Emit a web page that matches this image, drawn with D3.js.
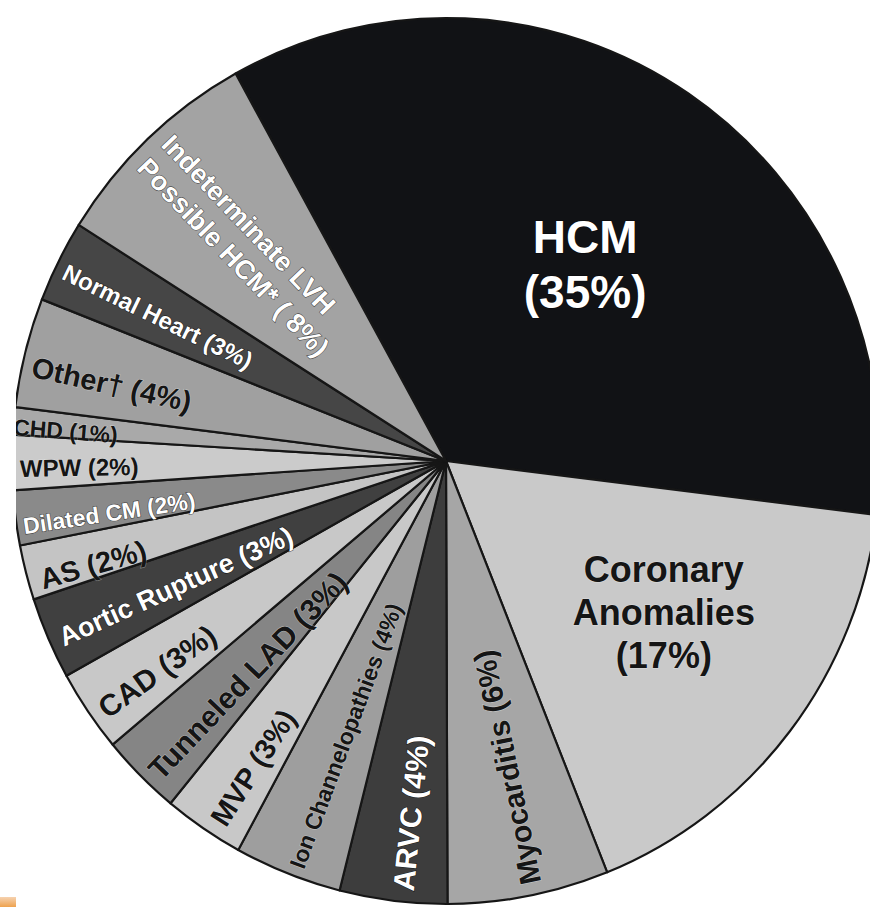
<!DOCTYPE html>
<html>
<head>
<meta charset="utf-8">
<script src="https://cdn.jsdelivr.net/npm/d3@7"></script>
<style>
  html, body { margin: 0; padding: 0; background: #ffffff; overflow: hidden; }
  svg { display: block; }
</style>
</head>
<body>
<svg id="chart" width="870" height="907"></svg>
<script>
// ---------------- data ----------------
const categories = ["HCM", "Coronary Anomalies", "Myocarditis", "ARVC", "Ion Channelopathies",
  "MVP", "Tunneled LAD", "CAD", "Aortic Rupture", "AS", "Dilated CM", "WPW", "CHD",
  "Other†", "Normal Heart", "Indeterminate LVH Possible HCM*"];
const values = [35, 17, 6, 4, 4, 3, 3, 3, 3, 2, 2, 2, 1, 4, 3, 8];
const labelLines = [
  ["HCM", "(35%)"],
  ["Coronary", "Anomalies", "(17%)"],
  ["Myocarditis (6%)"],
  ["ARVC (4%)"],
  ["Ion Channelopathies (4%)"],
  ["MVP (3%)"],
  ["Tunneled LAD (3%)"],
  ["CAD (3%)"],
  ["Aortic Rupture (3%)"],
  ["AS (2%)"],
  ["Dilated CM (2%)"],
  ["WPW (2%)"],
  ["CHD (1%)"],
  ["Other† (4%)"],
  ["Normal Heart (3%)"],
  ["Indeterminate LVH", "Possible HCM* ( 8%)"]
];

// ---------------- styles / layout ----------------
const FONT = "Arial, 'Liberation Sans', Helvetica, sans-serif";
const sliceFill = ["#111215", "#c9c9c9", "#a6a6a6", "#3d3d3d", "#9e9e9e", "#c8c8c8", "#858585",
  "#c8c8c8", "#404040", "#c4c4c4", "#8a8a8a", "#cbcbcb", "#a9a9a9", "#a0a0a0", "#464646", "#a3a3a3"];
const textFill = ["#ffffff", "#151515", "#151515", "#ffffff", "#151515", "#151515", "#151515",
  "#151515", "#ffffff", "#151515", "#ffffff", "#151515", "#151515", "#151515", "#ffffff", "#ffffff"];
const fontSize = [46, 36, 30, 30, 23, 29, 30, 30, 27, 29, 23, 24, 23, 29, 24, 27];
const labelMode = ["center", "center", "radial", "radial", "radial", "radial", "radial", "radial",
  "radial", "radial", "radial", "radial", "radial", "radial", "radial", "radial"];
const labelRadius = [0.548, 0.607, 0.975, 0.975, 0.98, 0.972, 0.977, 0.974, 0.975, 0.972, 0.985, 0.982, 1.0, 0.977, 0.979, 0.97];
const labelAngleAdj = [1.8, -3.4, -0.6, -1.2, -0.8, -1.2, -1.2, -1.0, -0.6, -1.4, -1.2, -0.8, -0.8, -1.6, -0.8, -0.4];

const W = 870, H = 907;
const cx = 446, cy = 461;
const R = 443;
const sx = 434 / 443;
const startDeg = -29;
const clipLeft = 16;   // the original image is cropped at its left edge

const svg = d3.select("#chart");
const defs = svg.append("defs");
defs.append("clipPath").attr("id", "crop")
  .append("rect").attr("x", clipLeft).attr("y", 0).attr("width", W - clipLeft).attr("height", H);

const pie = d3.pie()
  .value(d => d)
  .sort(null)
  .startAngle(startDeg * Math.PI / 180)
  .endAngle((startDeg + 360) * Math.PI / 180);
const arcs = pie(values);

const arc = d3.arc().innerRadius(0).outerRadius(R);

const gRoot = svg.append("g").attr("clip-path", "url(#crop)");

const gPie = gRoot.append("g")
  .attr("transform", `translate(${cx},${cy}) scale(${sx},1)`);

gPie.selectAll("path.slice")
  .data(arcs)
  .join("path")
  .attr("class", "slice")
  .attr("d", arc)
  .attr("fill", (d, i) => sliceFill[i])
  .attr("stroke", "#161616")
  .attr("stroke-width", 2.2)
  .attr("stroke-linejoin", "round");

const gLab = gRoot.append("g")
  .attr("font-family", FONT)
  .attr("font-weight", "bold");

arcs.forEach((d, i) => {
  const mid = (d.startAngle + d.endAngle) / 2 + labelAngleAdj[i] * Math.PI / 180;
  const r = R * labelRadius[i];
  const x = cx + Math.sin(mid) * r * sx;
  const y = cy - Math.cos(mid) * r;
  const lines = labelLines[i];
  const fs = fontSize[i];
  const halo = textFill[i] === "#ffffff" ? "rgba(0,0,0,0.55)" : "rgba(255,255,255,0.35)";
  if (labelMode[i] === "center") {
    const lh = fs * 1.2;
    const t = gLab.append("text")
      .attr("x", x).attr("y", y)
      .attr("text-anchor", "middle")
      .attr("font-size", fs)
      .attr("fill", textFill[i])
      .attr("stroke", halo).attr("stroke-width", 1.2).attr("paint-order", "stroke");
    lines.forEach((ln, k) => {
      t.append("tspan")
        .attr("x", x)
        .attr("y", y + (k - (lines.length - 1) / 2) * lh + fs * 0.35)
        .text(ln);
    });
  } else {
    const rot = mid * 180 / Math.PI - 270;
    const lh = fs * 1.25;
    const t = gLab.append("text")
      .attr("transform", `translate(${x},${y}) rotate(${rot})`)
      .attr("text-anchor", "start")
      .attr("font-size", fs)
      .attr("fill", textFill[i])
      .attr("stroke", halo).attr("stroke-width", 1.2).attr("paint-order", "stroke");
    lines.forEach((ln, k) => {
      t.append("tspan")
        .attr("x", 0)
        .attr("y", (k - (lines.length - 1) / 2) * lh + fs * 0.35)
        .text(ln);
    });
  }
});

const grad = defs.append("linearGradient")
  .attr("id", "corner").attr("x1", 0).attr("y1", 0).attr("x2", 0).attr("y2", 1);
grad.append("stop").attr("offset", "0%").attr("stop-color", "#f6d2b0");
grad.append("stop").attr("offset", "100%").attr("stop-color", "#eea24e");
svg.append("rect").attr("x", 0).attr("y", 897).attr("width", 16).attr("height", 10).attr("fill", "url(#corner)");
</script>
</body>
</html>
